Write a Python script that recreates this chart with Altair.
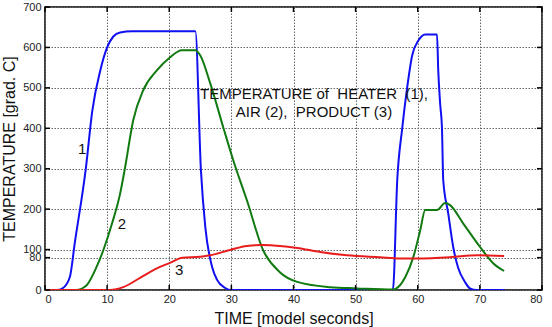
import altair as alt
import pandas as pd

# Heater (1)
heater_t = [0, 1.9, 2.9, 4.0, 4.8, 6.6, 7.6, 8.9, 10.0, 11.0, 12.1, 14.0, 23.9, 24.2, 25.1, 25.8, 26.9, 27.7, 29.0, 30.0,
            56.0, 56.7, 57.5, 58.3, 59.1, 60.1, 61.2, 63.1, 63.3, 63.6, 63.9, 64.1, 64.9, 65.7, 66.5, 67.6, 68.4, 69.5, 74.0]
heater_v = [0, 0, 5, 32, 117, 304, 442, 543, 600, 627, 637, 640, 640, 640, 296, 156, 57, 25, 5, 0,
            0, 272, 400, 501, 580, 617, 632, 632, 543, 462, 400, 272, 190, 107, 55, 20, 4, 0, 0]

# Air (2)
air_t = [0, 5.0, 6.7, 8.3, 9.4, 10.8, 12.1, 12.9, 14.2, 15.8, 18.0, 20.1, 22.0, 24.2, 25.0, 26.6, 28.7, 30.3, 32.5, 35.1,
         37.8, 40.6, 45.9, 50.2, 56.0, 58.0, 59.3, 60.4, 61.2, 63.1, 64.4, 65.2, 67.3, 70.0, 72.1, 73.9]
air_v = [0, 0, 12, 57, 99, 165, 239, 304, 420, 494, 543, 575, 593, 593, 580, 511, 402, 321, 222, 99,
         44, 20, 7, 4, 1, 32, 82, 148, 198, 198, 215, 210, 165, 107, 67, 47]

# Product (3)
product_t = [0, 10.5, 12.6, 15.3, 18.5, 20.1, 22.1, 25.0, 26.6, 29.8, 32.5, 35.0, 37.8, 40.6, 44.3, 48.6, 53.9, 57.2,
             59.9, 65.2, 69.6, 73.9]
product_v = [0, 0, 7, 30, 57, 67, 80, 82, 86, 99, 109, 111, 109, 104, 94, 86, 81, 78, 78, 81, 86, 84]

x_ticks = [0, 10, 20, 30, 40, 50, 60, 70, 80]
y_ticks = [0, 80, 100, 200, 300, 400, 500, 600, 700]

curve_labels = ["1", "2", "3"]
curve_label_t = [6.0, 12.4, 21.6]
curve_label_v = [348, 163, 49]

NB = "\u00a0"
note_lines = ["TEMPERATURE of" + NB + NB + "HEATER" + NB + NB + "(1),", "AIR (2)," + NB + NB + "PRODUCT (3)"]
note_t = [43.3, 43.3]
note_v = [486, 440]

series_names = ["heater", "air", "product"]
series_colors = ["#1010f0", "#107a10", "#e81c1c"]

rows = []
for name, ts, vs in [("heater", heater_t, heater_v), ("air", air_t, air_v), ("product", product_t, product_v)]:
    for i, (t, v) in enumerate(zip(ts, vs)):
        rows.append({"series": name, "t": t, "T": v, "i": i})
df = pd.DataFrame(rows)

W, H = 497, 283
FONT = "Liberation Sans"

xs = alt.Scale(domain=[0, 80], nice=False, zero=False)
ys = alt.Scale(domain=[0, 700], nice=False, zero=False)

x_axis = alt.Axis(values=x_ticks, title="TIME [model seconds]", grid=True,
                  gridColor="#666", gridDash=[1.5, 1.5], gridWidth=1,
                  ticks=False, domain=False, labelFontSize=11, labelFont=FONT,
                  labelColor="#222", labelPadding=3, labelOverlap=False,
                  titleFont=FONT, titleFontSize=16,
                  titleFontWeight="normal", titleColor="#111", titlePadding=6)
y_axis = alt.Axis(values=y_ticks, title="TEMPERATURE [grad. C]", grid=True,
                  gridColor="#666", gridDash=[1.5, 1.5], gridWidth=1,
                  ticks=False, domain=False, labelFontSize=11, labelFont=FONT,
                  labelColor="#222", labelPadding=4, labelOverlap=False,
                  labelBound=False, titleFont=FONT, titleFontSize=16,
                  titleFontWeight="normal", titleColor="#111", titlePadding=5)

nx = lambda f: alt.X(f, scale=xs, axis=x_axis)
ny = lambda f: alt.Y(f, scale=ys, axis=y_axis)

lines = alt.Chart(df).mark_line(strokeWidth=2, clip=True, interpolate="monotone").encode(
    x=nx("t:Q"), y=ny("T:Q"),
    color=alt.Color("series:N", scale=alt.Scale(domain=series_names, range=series_colors), legend=None),
    order="i:Q",
)

lbl_df = pd.DataFrame({"t": curve_label_t, "T": curve_label_v, "txt": curve_labels})
labels = alt.Chart(lbl_df).mark_text(fontSize=15, font=FONT, color="#111", align="center",
                                     baseline="middle").encode(
    x=nx("t:Q"), y=ny("T:Q"), text="txt:N")

note_df = pd.DataFrame({"t": note_t, "T": note_v, "txt": note_lines})
note = alt.Chart(note_df).mark_text(fontSize=15, font=FONT, color="#111", align="center",
                                    baseline="middle").encode(
    x=nx("t:Q"), y=ny("T:Q"), text="txt:N")

xt_df = pd.DataFrame({"t": x_ticks})
yt_df = pd.DataFrame({"T": y_ticks})
tick_b = alt.Chart(xt_df).mark_rule(color="black", strokeWidth=1.5).encode(
    x=nx("t:Q"), y=alt.value(H), y2=alt.value(H - 5))
tick_t = alt.Chart(xt_df).mark_rule(color="black", strokeWidth=1.5).encode(
    x=nx("t:Q"), y=alt.value(0), y2=alt.value(5))
tick_l = alt.Chart(yt_df).mark_rule(color="black", strokeWidth=1.5).encode(
    y=ny("T:Q"), x=alt.value(0), x2=alt.value(5))
tick_r = alt.Chart(yt_df).mark_rule(color="black", strokeWidth=1.5).encode(
    y=ny("T:Q"), x=alt.value(W), x2=alt.value(W - 5))

chart = alt.layer(lines, tick_b, tick_t, tick_l, tick_r, labels, note).properties(
    width=W, height=H,
    autosize=alt.AutoSizeParams(type="none"),
    padding={"left": 45, "top": 7, "right": 10, "bottom": 37},
    background="white",
).configure_view(stroke="black", strokeWidth=1.5)

chart.save("out.html", embed_options={"renderer": "svg", "actions": False})
